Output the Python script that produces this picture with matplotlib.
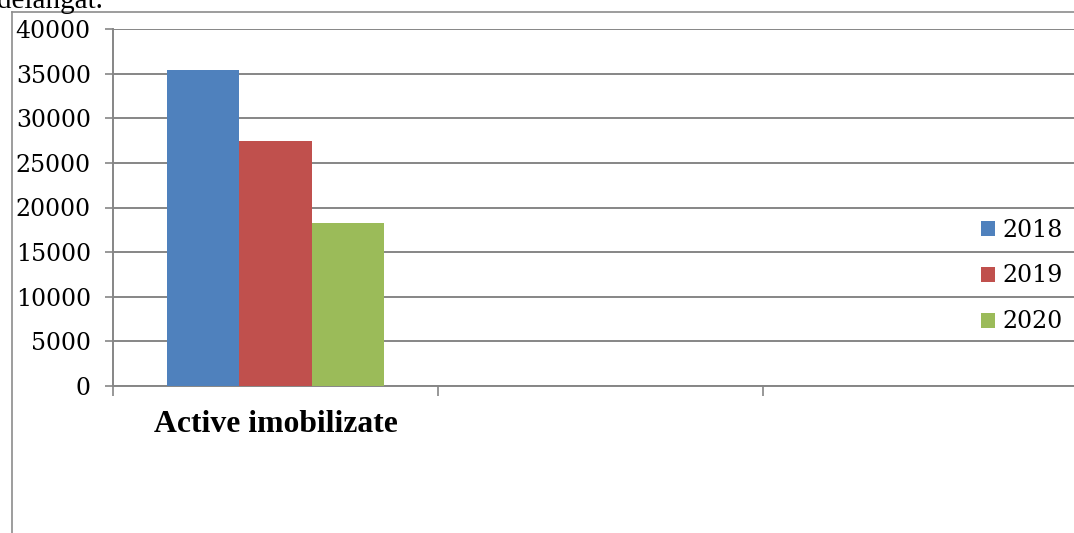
import matplotlib
matplotlib.use("Agg")
import matplotlib.pyplot as plt
from matplotlib.patches import Patch
from matplotlib.lines import Line2D
import numpy as np

# Data
categories = ["Active imobilizate", "", ""]
years = ["2018", "2019", "2020"]
values_2018 = [35400, 0, 0]
values_2019 = [27450, 0, 0]
values_2020 = [18250, 0, 0]
y_ticks = [0, 5000, 10000, 15000, 20000, 25000, 30000, 35000, 40000]

colors = ["#4f81bd", "#c0504d", "#9bbb59"]
grid_color = "#868686"

W, H = 1074, 533
fig = plt.figure(figsize=(W / 100, H / 100), dpi=100)

# Plot area (pixel box: x 113..1088, y 29..386)
left, right, top, bottom = 113, 1088, 29, 386
ax = fig.add_axes([left / W, 1 - bottom / H, (right - left) / W, (bottom - top) / H])

x = np.arange(len(categories))
bw = 0.223
series = [values_2018, values_2019, values_2020]
for i, (vals, c) in enumerate(zip(series, colors)):
    ax.bar(x + (i - 1) * bw, vals, width=bw, color=c, zorder=3, linewidth=0)

ax.set_xlim(-0.5, len(categories) - 0.5)
ax.set_ylim(0, 40000)
ax.set_yticks(y_ticks)
ax.set_yticklabels([str(v) for v in y_ticks], family="DejaVu Serif", fontsize=17)
ax.yaxis.grid(True, color=grid_color, linewidth=1.4, zorder=0)
ax.set_axisbelow(True)

# Category boundary ticks on the x axis
ax.set_xticks(np.arange(-0.5, len(categories) - 0.5, 1.0))
ax.set_xticklabels([])
ax.tick_params(axis="x", length=7, width=1.2, color=grid_color, direction="out")
ax.tick_params(axis="y", length=6, width=1.2, color=grid_color, pad=10)

for s in ["top", "right"]:
    ax.spines[s].set_visible(False)
for s in ["left", "bottom"]:
    ax.spines[s].set_color(grid_color)
    ax.spines[s].set_linewidth(1.4)

# Category label
for xi, name in zip(x, categories):
    if name:
        ax.text(xi, -0.108, name, transform=ax.get_xaxis_transform(),
                ha="center", va="center", family="Liberation Serif",
                fontweight="bold", fontsize=22.8)

# Legend
handles = [Patch(facecolor=c, edgecolor="none") for c in colors]
fig.legend(handles, years, loc="center left", bbox_to_anchor=(969 / W, 1 - 276 / H),
           frameon=False, prop={"family": "DejaVu Serif", "size": 17},
           handlelength=0.6, handleheight=0.6, handletextpad=0.3,
           labelspacing=0.97, borderpad=0)

# Chart area border
fig.add_artist(Line2D([12 / W, 12 / W], [0, 1 - 12 / H], color="#8c8c8c", linewidth=1.2))
fig.add_artist(Line2D([12 / W, 1], [1 - 12 / H, 1 - 12 / H], color="#8c8c8c", linewidth=1.2))

# Tail of the preceding document line
fig.text(103 / W, 1 - 8 / H, "delangat.", ha="right", va="baseline",
         family="Liberation Serif", fontsize=21)

fig.savefig("out.png", dpi=100)
